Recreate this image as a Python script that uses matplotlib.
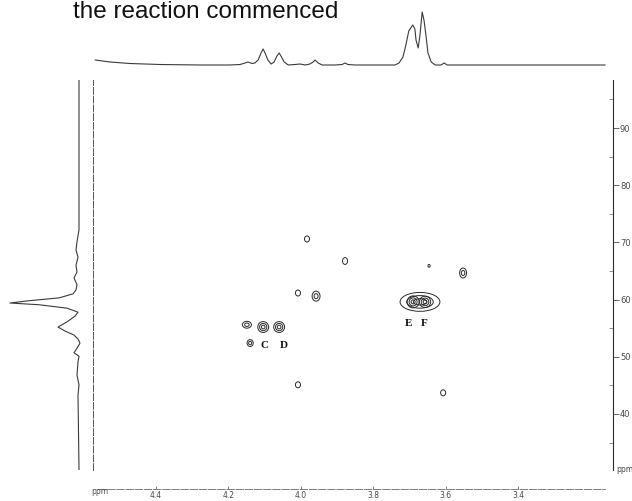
import matplotlib
matplotlib.use("Agg")
import matplotlib.pyplot as plt
from matplotlib.patches import Ellipse
import matplotlib.transforms as mtransforms

######################################## DATA ########################################

title = "the reaction commenced"

# 2D cross peaks: F2 (1H, ppm), F1 (13C, ppm), contour rings, linewidths (ppm)
peak_h = [3.983, 3.878, 4.008, 3.958, 3.646, 3.552, 3.671, 3.690, 3.657,
          4.149, 4.104, 4.060, 4.140, 4.008, 3.607]
peak_c = [70.6, 66.75, 61.15, 60.6, 65.9, 64.65, 59.6, 59.6, 59.6,
          55.6, 55.2, 55.2, 52.4, 45.1, 43.7]
peak_rings = [1, 1, 1, 2, 1, 2, 3, 3, 3, 2, 3, 3, 2, 1, 1]
peak_wh = [0.014, 0.014, 0.014, 0.022, 0.006, 0.019, 0.110, 0.033, 0.031,
           0.025, 0.030, 0.030, 0.017, 0.014, 0.014]
peak_wc = [1.05, 1.2, 1.05, 1.75, 0.5, 1.75, 3.3, 2.1, 2.0,
           1.2, 1.9, 1.9, 1.2, 1.05, 1.05]

# peak labels
lab_text = ["C", "D", "E", "F"]
lab_h = [4.100, 4.048, 3.702, 3.660]
lab_c = [52.0, 52.0, 55.9, 55.9]

# 1H projection (top trace)
top_ppm = [4.568, 4.527, 4.472, 4.389, 4.278, 4.196, 4.168, 4.154, 4.146, 4.135,
           4.127, 4.118, 4.110, 4.104, 4.099, 4.091, 4.082, 4.074, 4.066, 4.060,
           4.055, 4.046, 4.035, 4.016, 4.002, 3.988, 3.975, 3.966, 3.961, 3.952,
           3.941, 3.906, 3.886, 3.878, 3.870, 3.850, 3.740, 3.729, 3.718, 3.710,
           3.702, 3.691, 3.685, 3.682, 3.676, 3.671, 3.665, 3.660, 3.654, 3.649,
           3.640, 3.629, 3.613, 3.604, 3.596, 3.560, 3.160]
top_int = [5, 3, 1.5, 0.5, 0, 0, 0.5, 2, 3, 1.5,
           2, 5, 12, 16, 12, 5, 1, 3, 9, 12,
           9, 3, 0, 0.5, 1, 0, 1, 3, 5, 2,
           0, 0, 0.5, 2, 0.5, 0, 0, 2, 8, 20,
           34, 40, 36, 25, 17, 30, 53, 45, 28, 12,
           3, 0, 0, 2, 0, 0, 0]

# 13C projection (left trace)
left_ppm = [99.3, 72.2, 70.1, 68.7, 67.4, 66.0, 64.8, 63.8, 62.6, 61.7,
            61.0, 60.3, 59.8, 59.4, 59.1, 58.5, 57.8, 57.1, 56.1, 55.2,
            54.5, 53.8, 53.1, 52.4, 51.5, 50.7, 50.1, 49.1, 46.8, 45.1,
            43.3, 30.2]
left_int = [0, 0, 2, 3, 1, 3, 2, 5, 2, 3,
            6, 20, 50, 69, 40, 12, 1, 4, 12, 21,
            14, 5, 1, -1, 2, 5, 0, 1, 2, 0,
            1, 0]

x_ticks = [4.4, 4.2, 4.0, 3.8, 3.6, 3.4]
y_ticks = [90, 80, 70, 60, 50, 40]

######################################## PLOT ########################################

W, H = 632, 501
fig = plt.figure(figsize=(W / 100, H / 100), dpi=100)

def box(x0, y0, x1, y1):
    # pixel box -> figure fraction
    return [x0 / W, 1 - y1 / H, (x1 - x0) / W, (y1 - y0) / H]

xlim = (4.574, 3.138)
ylim = (30.2, 98.4)
ink = "#2a2a2a"
grey = "#4a4a4a"

# main 2D panel
ax = fig.add_axes(box(93, 80, 613, 470))
ax.set_xlim(*xlim)
ax.set_ylim(*ylim)
ax.spines["top"].set_visible(False)
ax.spines["left"].set_linestyle((0, (7, 2)))
ax.spines["left"].set_color("#555555")
ax.spines["left"].set_linewidth(0.7)
ax.spines["right"].set_color(ink)
ax.spines["right"].set_linewidth(0.8)
ax.spines["bottom"].set_position(("outward", 14))
ax.spines["bottom"].set_linestyle((0, (9, 2)))
ax.spines["bottom"].set_color("#666666")
ax.spines["bottom"].set_linewidth(0.6)
ax.spines["bottom"].set_bounds(4.56, 3.16)

ax.yaxis.tick_right()
ax.set_yticks(y_ticks)
ax.set_yticklabels([str(v) for v in y_ticks])
ax.set_yticks([95, 85, 75, 65, 55, 45, 35], minor=True)
ax.tick_params(axis="y", which="major", direction="out", length=4, width=0.6,
               pad=1, labelsize=6, colors=grey)
ax.tick_params(axis="y", which="minor", direction="in", length=3, width=0.5,
               colors="#666666")
ax.set_xticks(x_ticks)
ax.set_xticklabels([f"{v:.1f}" for v in x_ticks])
ax.tick_params(axis="x", direction="in", length=2, width=0.5, pad=1,
               labelsize=5.5, colors=grey)

ax.text(1.006, 0.0, "ppm", transform=ax.transAxes, fontsize=5.5,
        color=grey, va="center", ha="left")
trans = mtransforms.blended_transform_factory(ax.transData, fig.transFigure)
ax.text(4.555, 1 - 491 / H, "ppm", transform=trans, fontsize=5.5,
        color=grey, va="center", ha="center")

# contour rings
for h, c, n, wh, wc in zip(peak_h, peak_c, peak_rings, peak_wh, peak_wc):
    for k in range(n, 0, -1):
        f = k / n
        ax.add_patch(Ellipse((h, c), wh * f, wc * f, fill=False,
                             edgecolor=ink, linewidth=0.7))

for t, h, c in zip(lab_text, lab_h, lab_c):
    ax.text(h, c, t, fontsize=8, fontweight="bold", family="Liberation Serif",
            ha="center", va="center", color="#111111")

# top projection
axt = fig.add_axes(box(93, 0, 613, 78))
axt.set_xlim(*xlim)
axt.set_ylim(-13, 65)
axt.plot(top_ppm, top_int, color="#3a3a3a", linewidth=0.8)
axt.axis("off")

# left projection
axl = fig.add_axes(box(0, 80, 93, 470))
axl.set_ylim(*ylim)
axl.set_xlim(79, -14)
axl.plot(left_int, left_ppm, color="#3a3a3a", linewidth=0.8)
axl.axis("off")

fig.text(73 / W, 1 - 18 / H, title, fontsize=17.5, family="Liberation Sans",
         ha="left", va="baseline", color="#111111")

fig.savefig("out.png", dpi=100)
